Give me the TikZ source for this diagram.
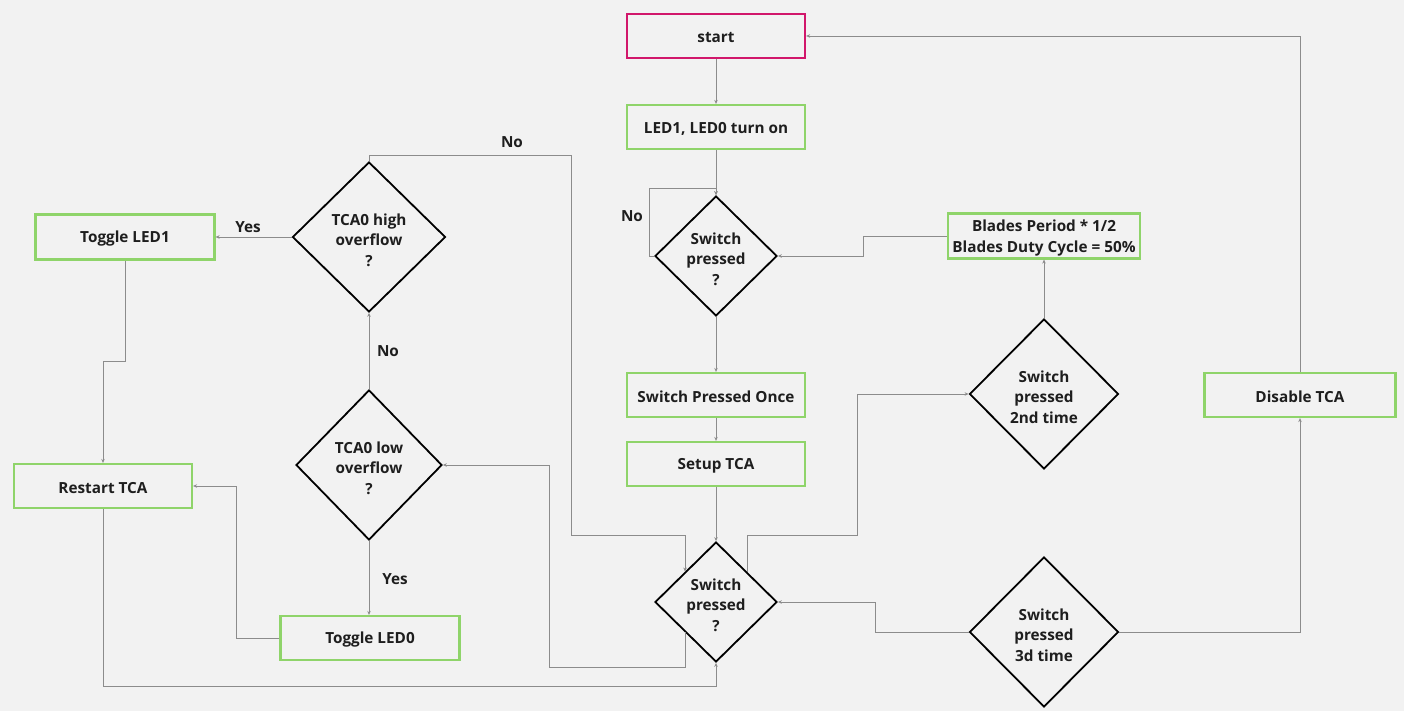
\documentclass[tikz,border=0pt]{standalone}
\usepackage{fontspec}
\setmainfont{Open Sans}
\usetikzlibrary{shapes.geometric,arrows.meta}
\definecolor{bg}{HTML}{F2F2F2}
\definecolor{boxgreen}{HTML}{8FD46A}
\definecolor{startred}{HTML}{D1176B}
\definecolor{linegray}{HTML}{8C8C8C}
\definecolor{txt}{HTML}{1E1E1E}
\newcommand\firstline{\rule{0pt}{17.5pt}}
\newcommand\firstlineb{\rule{0pt}{15.5pt}}
\begin{document}
\begin{tikzpicture}[x=1pt,y=-1pt,
  every node/.style={text=txt,font=\fontsize{15.3}{20.6}\selectfont\bfseries,align=center},
  shifted/.style={execute at begin node={\rule{0pt}{15pt}},execute at end node={\rule[-1pt]{0pt}{1pt}}},
  box/.style={shifted,draw=boxgreen,line width=2.2pt,fill=bg,minimum width=178pt,minimum height=44pt,inner sep=0pt},
  startbox/.style={box,draw=startred},
  dia/.style={shape=diamond,draw=black,line width=1.8pt,fill=bg,inner sep=0pt},
  conn/.style={draw=linegray,line width=0.9pt,-{Stealth[length=4pt,width=3.5pt]}},
  lbl/.style={inner sep=1pt}
]
\useasboundingbox[fill=bg] (0,0) rectangle (1404,711);

% boxes
\node[startbox] (start) at (716,36) {start};
\node[box] (led) at (716,127) {LED1, LED0 turn on};
\node[box] (once) at (716,395) {Switch Pressed Once};
\node[box] (setup) at (716,464) {Setup TCA};
\node[box,minimum width=192pt,minimum height=45pt] (blades) at (1044,236) {\firstlineb Blades Period * 1/2\\Blades Duty Cycle = 50\%};
\node[box,minimum width=191pt] (disable) at (1300,395) {Disable TCA};
\node[box,minimum width=179pt,minimum height=45pt] (tog1) at (125,237) {Toggle LED1};
\node[box] (restart) at (103,486) {Restart TCA};
\node[box,minimum width=179pt] (tog0) at (370,638) {Toggle LED0};

% diamonds
\node[dia,minimum width=122pt,minimum height=120pt] (d1) at (716,256) {\firstline Switch\\pressed\\?};
\node[dia,minimum width=122pt,minimum height=120pt] (d2) at (716,602) {\firstline Switch\\pressed\\?};
\node[dia,minimum width=149pt,minimum height=150pt] (d3) at (1044,394) {\firstline Switch\\pressed\\2nd time};
\node[dia,minimum width=149pt,minimum height=150pt] (d4) at (1044,632) {\firstline Switch\\pressed\\3d time};
\node[dia,minimum width=153pt,minimum height=150pt] (hi) at (369,237) {\firstline TCA0 high\\overflow\\?};
\node[dia,minimum width=146pt,minimum height=150pt] (lo) at (369,465) {\firstline TCA0 low\\overflow\\?};

% connectors
\draw[conn] (start) -- (led);
\draw[conn] (led) -- (d1);
\draw[conn] (d1.west) -- (649,256) -- (649,188) -- (d1.north |- 0,188) -- (d1.north);
\draw[conn] (d1) -- (once);
\draw[conn] (once) -- (setup);
\draw[conn] (setup) -- (d2);
\draw[conn] (blades.west) -- (863,236) |- (d1.east);
\draw[conn] (d3) -- (blades);
\draw[conn] (d2.north east) |- (857,535) |- (d3.west);
\draw[conn] (d4.west) -- (875,632) |- (d2.east);
\draw[conn] (d4.east) -| (disable.south);
\draw[conn] (disable.north) |- (start.east);
\draw[conn] (hi.north) |- (571,155) -- (571,535) -| (d2.north west);
\draw[conn] (d2.south west) |- (549,667) |- (lo.east);
\draw[conn] (lo.south) -- (lo.south |- tog0.north);
\draw[conn] (lo) -- (hi);
\draw[conn] (hi.west) -- (tog1.east);
\draw[conn] (tog1.south) -- (125,361) -| (restart.north);
\draw[conn] (tog0.west) -- (236,638) |- (restart.east);
\draw[conn] (restart.south) -- (103,686) -| (d2.south);

% labels
\node[lbl] (lno1) at (512,142) {No};
\node[lbl] (lno2) at (632,216) {No};
\node[lbl] (lyes1) at (248,227) {Yes};
\node[lbl] (lno3) at (388,351) {No};
\node[lbl] (lyes2) at (395,579) {Yes};
\end{tikzpicture}
\end{document}
